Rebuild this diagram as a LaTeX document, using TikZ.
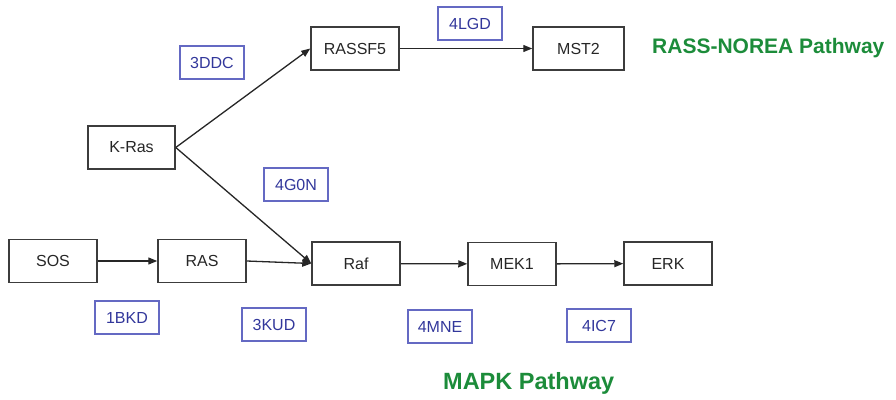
\documentclass[tikz,border=0pt]{standalone}
\usepackage{fontspec}
\setmainfont{Liberation Sans}
\usetikzlibrary{arrows.meta}
\definecolor{boxline}{RGB}{60,60,60}
\definecolor{pdbblue}{RGB}{50,55,155}
\definecolor{pdbline}{RGB}{100,105,195}
\definecolor{pathgreen}{RGB}{28,140,58}
\tikzset{
  protein/.style={draw=boxline, line width=1.5pt, minimum width=88pt, minimum height=43pt,
    inner sep=0pt, font=\fontsize{16}{19}\selectfont, text=black!85},
  pdb/.style={draw=pdbline, line width=1.1pt, minimum width=64pt, minimum height=33pt,
    inner sep=0pt, font=\fontsize{16}{19}\selectfont, text=pdbblue},
  pathway/.style={text=pathgreen, font=\bfseries, inner sep=0pt},
  arr/.style={draw=black!85, line width=1.3pt, -{Triangle[length=9pt,width=7pt]}}
}
\begin{document}
\begin{tikzpicture}[x=1pt,y=-1pt]
\useasboundingbox (0,0) rectangle (896,399);

% protein boxes
\node[protein] (sos)    at (53,261)    {SOS};
\node[protein] (ras)    at (202,261)   {RAS};
\node[protein] (raf)    at (356,263.5) {Raf};
\node[protein] (mek)    at (512,264)   {MEK1};
\node[protein] (erk)    at (668,263.5) {ERK};
\node[protein, minimum width=87pt] (kras) at (131.5,147.5) {K-Ras};
\node[protein] (rassf)  at (355,48.5)  {RASSF5};
\node[protein, minimum width=91pt] (mst)  at (578.5,48.5) {MST2};

% PDB structure labels
\node[pdb] (l3ddc) at (212,62.5)  {3DDC};
\node[pdb] (l4g0n) at (296,184.5) {4G0N};
\node[pdb] (l4lgd) at (470,23.5)  {4LGD};
\node[pdb] (l1bkd) at (127,317.5) {1BKD};
\node[pdb] (l3kud) at (274,324.5) {3KUD};
\node[pdb] (l4mne) at (440,326.5) {4MNE};
\node[pdb] (l4ic7) at (599,325.5) {4IC7};

% pathway titles
\node[pathway, font=\fontsize{21}{24}\selectfont\bfseries, anchor=west] (rn) at (652,48) {RASS-NOREA Pathway};
\node[pathway, font=\fontsize{23.5}{27}\selectfont\bfseries, anchor=west] (mp) at (443,383) {MAPK Pathway};

% interactions
\draw[arr] (sos) -- (ras);
\draw[arr] (ras.east) -- (raf.west);
\draw[arr] (raf) -- (mek);
\draw[arr] (mek) -- (erk);
\draw[arr] (kras.east) -- (rassf.west);
\draw[arr] (kras.east) -- (raf.west);
\draw[arr] (rassf) -- (mst);
\end{tikzpicture}
\end{document}
